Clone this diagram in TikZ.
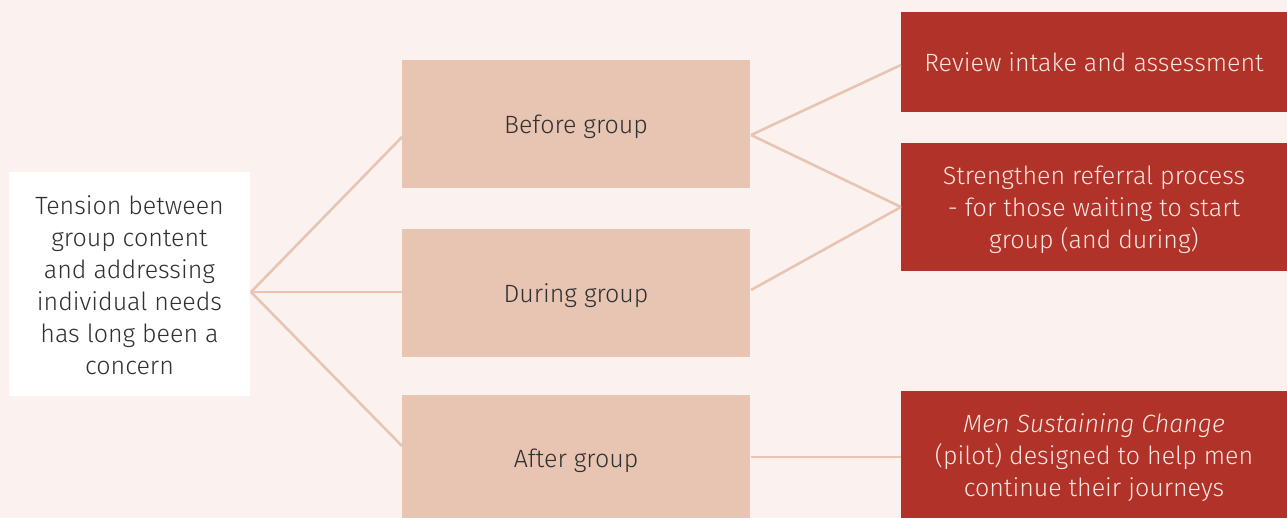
\documentclass[tikz,border=0pt]{standalone}
\usepackage{fontspec}
\setmainfont{Fira Sans}[UprightFont=* Light, ItalicFont=* Light Italic]
\definecolor{bgc}{HTML}{FBF2EF}
\definecolor{peach}{HTML}{E8C4B2}
\definecolor{brick}{HTML}{B03228}
\definecolor{darktxt}{HTML}{303030}
\definecolor{lighttxt}{HTML}{F8E6DF}
\tikzset{
  box/.style={inner sep=0pt, align=center, font=\fontsize{25}{32}\selectfont, text depth=0pt},
  oneline/.style={text height=20pt},
  threelines/.style={text height=84pt},
  sixlines/.style={text height=180pt},
  rootbox/.style={box, fill=white, text=darktxt, minimum width=241pt, minimum height=224pt},
  phasebox/.style={box, fill=peach, text=darktxt, minimum width=348pt, minimum height=128pt},
  actbox/.style={box, fill=brick, text=lighttxt, minimum width=386pt},
  link/.style={draw=peach, line width=2.6pt}
}
\begin{document}
\begin{tikzpicture}[x=1pt, y=-1pt]
\fill[bgc] (0,0) rectangle (1287,518);
\useasboundingbox (0,0) rectangle (1287,518);
\begin{scope}
\clip (0,0) rectangle (1287,518);
\node[rootbox, sixlines] (root) at (129.5,284) {Tension between\\group content\\and addressing\\individual needs\\has long been a\\concern};
\node[phasebox, oneline] (before) at (576,124) {Before group};
\node[phasebox, oneline] (during) at (576,293) {During group};
\node[phasebox, oneline, minimum height=124pt] (after) at (576,457) {After group};
\node[actbox, oneline, minimum height=100pt] (review) at (1094,62) {Review intake and assessment};
\node[actbox, threelines, minimum height=128pt] (strength) at (1094,207) {Strengthen referral process\\- for those waiting to start\\group (and during)};
\node[actbox, threelines, minimum height=127pt] (men) at (1094,454.5) {\itshape Men Sustaining Change\\(pilot) designed to help men\\continue their journeys};
\end{scope}
\coordinate (hub) at (251,292);
\coordinate (bIn) at (402,137);
\coordinate (dIn) at (402,292);
\coordinate (aIn) at (402,446);
\coordinate (bOut) at (751,135);
\coordinate (dOut) at (751,290);
\coordinate (aOut) at (751,457);
\coordinate (rIn) at (901,65);
\coordinate (sIn) at (901,207);
\coordinate (mIn) at (901,457);
\draw[link] (hub) -- (bIn);
\draw[link] (hub) -- (dIn);
\draw[link] (hub) -- (aIn);
\draw[link] (bOut) -- (rIn);
\draw[link] (bOut) -- (sIn);
\draw[link] (dOut) -- (sIn);
\draw[link] (aOut) -- (mIn);
\end{tikzpicture}
\end{document}
